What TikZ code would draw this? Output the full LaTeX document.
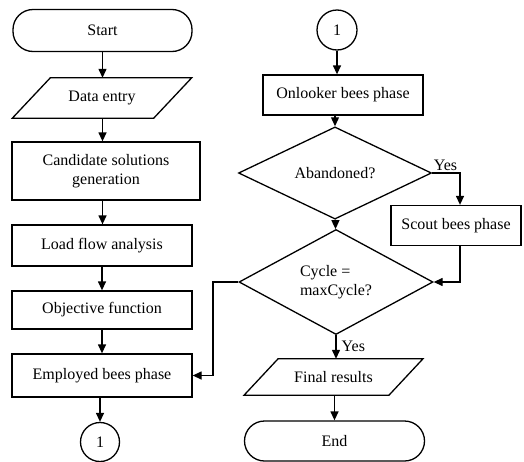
\documentclass[tikz,border=0pt]{standalone}
\usepackage{fontspec}
\setmainfont{Liberation Serif}
\usetikzlibrary{arrows.meta,shapes.geometric}
\begin{document}
\begin{tikzpicture}[x=1pt,y=-1pt,
  every node/.style={font=\fontsize{16}{18.5}\selectfont, inner sep=0pt},
  lw/.style={line width=1.3pt},
  box/.style={draw, lw, rectangle, align=center},
  term/.style={draw, lw, rectangle, rounded corners=20pt},
  iobox/.style={rectangle},
  conn/.style={draw, lw, circle},
  dec/.style={draw, lw, diamond},
  arr/.style={lw, -{Triangle[length=9pt,width=8pt]}},
  plain/.style={lw},
  lbl/.style={inner sep=1.5pt}]
\useasboundingbox (0,0) rectangle (524,461);
% left column
\node[term, minimum width=179pt, minimum height=42pt] (start) at (102.5,30.5) {Start};
\node[iobox, minimum width=141pt, minimum height=40pt] (data) at (102,98) {Data entry};
\draw[plain] ([xshift=19pt]data.north west) -- ([xshift=19pt]data.north east) -- ([xshift=-19pt]data.south east) -- ([xshift=-19pt]data.south west) -- cycle;
\node[box, minimum width=188pt, minimum height=58pt] (cand) at (106,171) {Candidate solutions\\generation};
\node[box, minimum width=180pt, minimum height=41pt] (load) at (102,245.5) {Load flow analysis};
\node[box, minimum width=180pt, minimum height=38pt] (obj) at (102,310) {Objective function};
\node[box, minimum width=180pt, minimum height=43pt] (emp) at (102,375.5) {Employed bees phase};
\node[conn, minimum size=39pt] (c1a) at (100,442) {1};
% right column
\node[conn, minimum size=40pt] (c1b) at (337,30) {1};
\node[box, minimum width=160pt, minimum height=40pt] (onl) at (343,95) {Onlooker bees phase};
\node[dec, minimum width=193pt, minimum height=66pt] (aband) at (335,173) {Abandoned?};
\node[box, minimum width=130pt, minimum height=40pt] (scout) at (456,225.5) {Scout bees phase};
\node[dec, minimum width=194pt, minimum height=104pt, align=left] (cyc) at (336,282) {Cycle =\\maxCycle?};
\node[iobox, minimum width=144.5pt, minimum height=36pt] (fin) at (333.5,377) {Final results};
\draw[plain] ([xshift=17pt]fin.north west) -- ([xshift=17pt]fin.north east) -- ([xshift=-17pt]fin.south east) -- ([xshift=-17pt]fin.south west) -- cycle;
\node[term, minimum width=180pt, minimum height=40pt] (endn) at (334.5,441) {End};
% connectors left
\draw[arr] (start) -- (start |- data.north);
\draw[arr] (data.south -| start) -- (start |- cand.north);
\draw[arr] (cand.south -| start) -- (start |- load.north);
\draw[arr] (load) -- (obj);
\draw[arr] (obj) -- (emp);
\draw[arr] (emp.south -| c1a) -- (c1a);
% connectors right
\draw[arr] (c1b) -- (c1b |- onl.north);
\draw[arr] (aband.north |- onl.south) -- (aband.north);
\draw[arr] (aband) -- (cyc);
\draw[arr] (aband.east) -| ([xshift=4pt]scout.north);
\node[lbl, anchor=south west] (yes1) at ([yshift=1pt]aband.east) {Yes};
\draw[arr] ([xshift=4pt]scout.south) |- (cyc.east);
\coordinate (bend) at (213,282);
\draw[arr] (cyc.west) -- (bend) |- (emp.east);
\draw[arr] (cyc.south) -- (cyc.south |- fin.north);
\node[lbl, anchor=west] (yes2) at (340,346) {Yes};
\draw[arr] (fin.south -| endn) -- (endn);
\end{tikzpicture}
\end{document}
